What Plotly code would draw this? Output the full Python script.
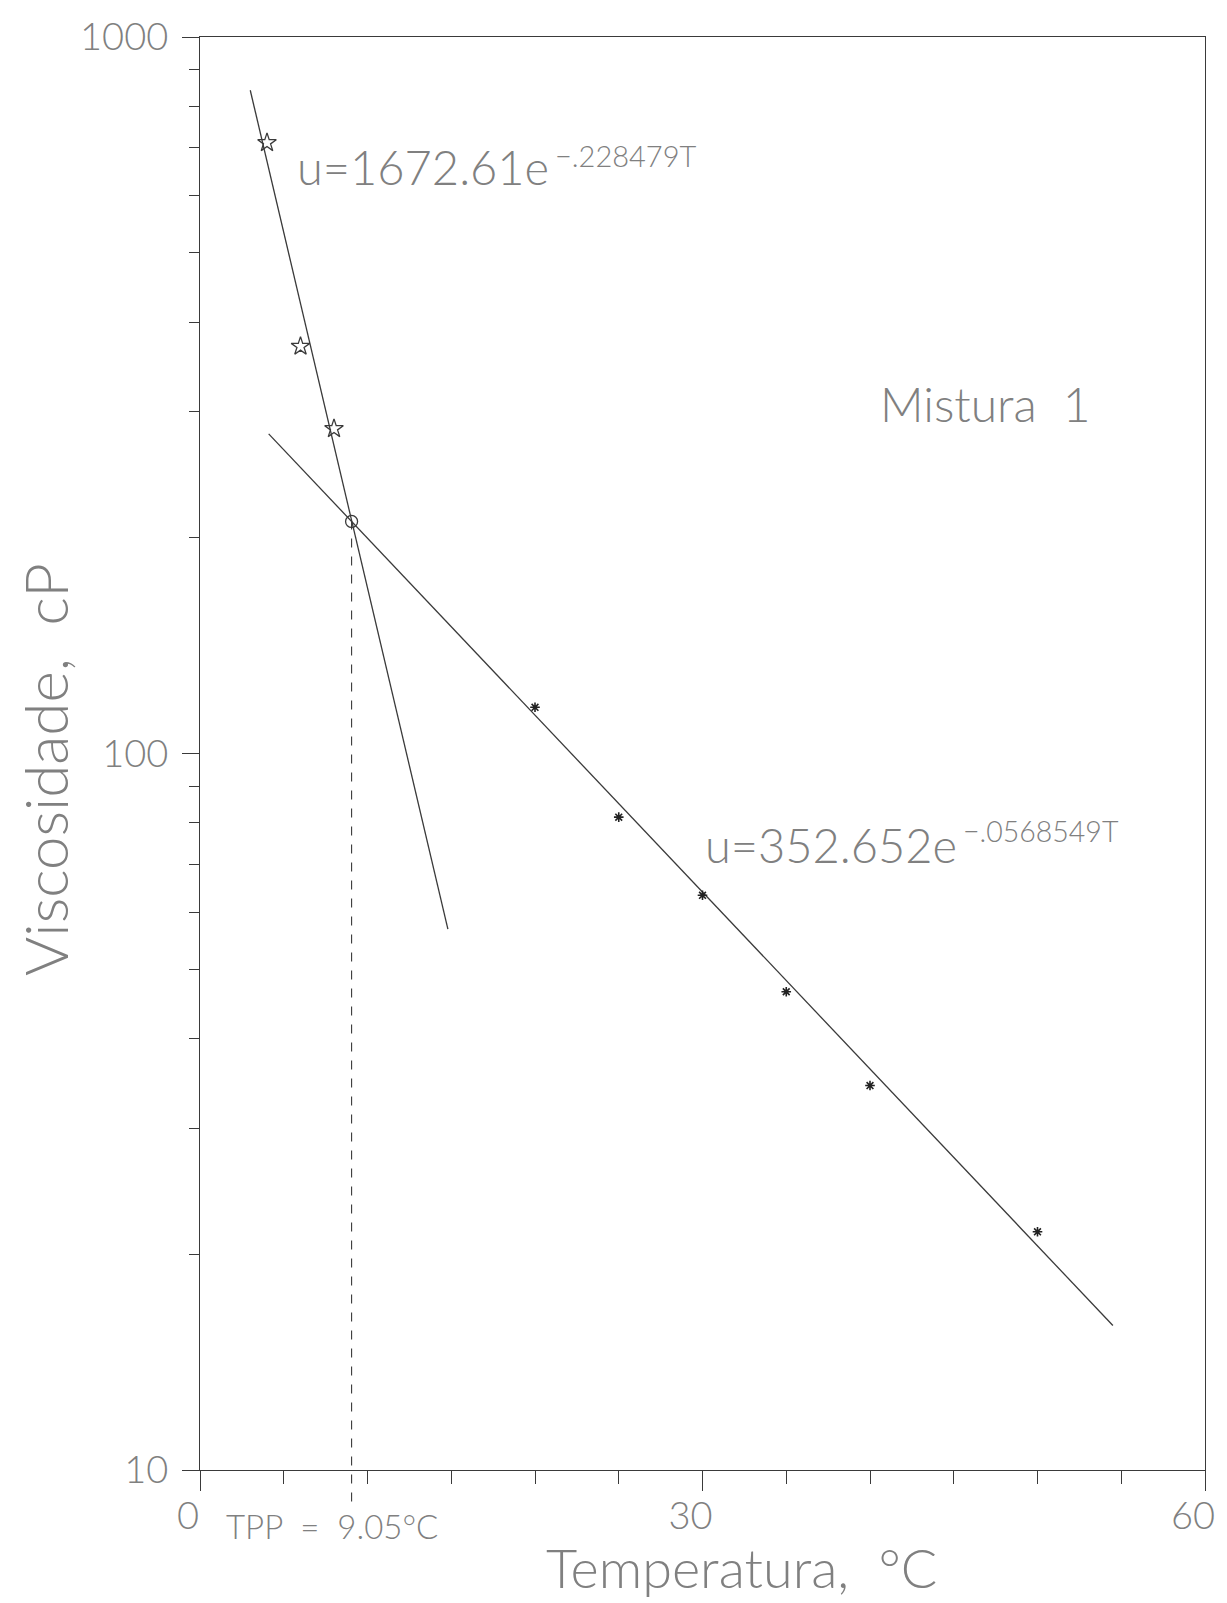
import math
import plotly.graph_objects as go

# Measured viscosity of "Mistura 1" (cP) vs temperature (°C)
T_low = [4, 6, 8]                 # below the pour point
u_low = [712, 370, 284]
T_high = [20, 25, 30, 35, 40, 50]  # above the pour point
u_high = [116, 81.5, 63.4, 46.5, 34.4, 21.5]

# Exponential fits u = A * exp(-b T)
A_low, b_low = 1672.61, 0.228479
A_high, b_high = 352.652, 0.0568549
T_span_low = [3.0, 14.8]
T_span_high = [4.1, 54.5]

TPP = 9.05  # pour point (intersection of both fits)

x_major = [0, 30, 60]
x_minor = [5, 10, 15, 20, 25, 35, 40, 45, 50, 55]
y_major = [10, 100, 1000]
y_minor = [m * d for d in (10, 100) for m in range(2, 10)]

LINE = "#3a3a3a"
TEXT = "#808080"
FONT = "Lato"
W = 300


def fit(A, b, T):
    return [A * math.exp(-b * t) for t in T]


u_tpp = A_high * math.exp(-b_high * TPP)

fig = go.Figure()

fig.add_trace(go.Scatter(
    x=T_span_low, y=fit(A_low, b_low, T_span_low), mode="lines",
    line=dict(color=LINE, width=1.3), showlegend=False, hoverinfo="skip"))
fig.add_trace(go.Scatter(
    x=T_span_high, y=fit(A_high, b_high, T_span_high), mode="lines",
    line=dict(color=LINE, width=1.3), showlegend=False, hoverinfo="skip"))

fig.add_trace(go.Scatter(
    x=T_low, y=u_low, mode="markers",
    marker=dict(symbol="star-open", size=14, color=LINE, line=dict(width=1.3)),
    showlegend=False))
fig.add_trace(go.Scatter(
    x=T_high, y=u_high, mode="markers",
    marker=dict(symbol="asterisk-open", size=8, color="#222", line=dict(width=1.6, color="#222")),
    showlegend=False))
fig.add_trace(go.Scatter(
    x=[TPP], y=[u_tpp], mode="markers",
    marker=dict(symbol="circle-open", size=12, color=LINE, line=dict(width=1.3)),
    showlegend=False))

# Dashed drop line from the intersection to just below the T axis
y_paper_tpp = (math.log10(u_tpp) - 1) / 2
fig.add_shape(type="line", xref="x", yref="paper",
              x0=TPP, x1=TPP, y0=-0.022, y1=y_paper_tpp,
              line=dict(color=LINE, width=1.1, dash="dash"))

fig.update_xaxes(
    range=[0, 60], tickmode="array", tickvals=x_major,
    ticktext=[str(v) for v in x_major],
    ticks="outside", ticklen=20, tickwidth=1.2, tickcolor=LINE,
    minor=dict(tickvals=x_minor, ticks="outside", ticklen=13, tickwidth=1.2, tickcolor=LINE),
    showline=True, linecolor=LINE, linewidth=1.3, mirror=True,
    showgrid=False, zeroline=False,
    ticklabelshift=-12, ticklabelstandoff=-8, ticklabeloverflow="allow",
    tickfont=dict(family=FONT, size=38, color=TEXT, weight=W))

fig.update_yaxes(
    type="log", range=[1, 3], tickmode="array", tickvals=y_major,
    ticktext=[str(v) for v in y_major],
    ticks="outside", ticklen=17, tickwidth=1.2, tickcolor=LINE,
    minor=dict(tickvals=y_minor, ticks="outside", ticklen=10, tickwidth=1.2, tickcolor=LINE),
    showline=True, linecolor=LINE, linewidth=1.3, mirror=True,
    showgrid=False, zeroline=False, ticklabelstandoff=6,
    tickfont=dict(family=FONT, size=38, color=TEXT, weight=W))

txt = dict(family=FONT, color=TEXT, weight=W)
annotations = [
    # fit equations: base text and exponent placed separately
    dict(x=0.0941, y=0.9095, xanchor="left", yanchor="middle",
         text="u=1672.61e", font=dict(size=47, **txt)),
    dict(x=0.3515, y=0.9175, xanchor="left", yanchor="middle",
         text="−.228479T", font=dict(size=29, **txt)),
    dict(x=0.5, y=0.4363, xanchor="left", yanchor="middle",
         text="u=352.652e", font=dict(size=47, **txt)),
    dict(x=0.7574, y=0.4457, xanchor="left", yanchor="middle",
         text="−.0568549T", font=dict(size=28.5, **txt)),
    dict(x=0.782, y=0.744, xanchor="center", yanchor="middle",
         text="Mistura  1", font=dict(size=48, **txt)),
    dict(x=0.1317, y=-0.039, xanchor="center", yanchor="middle",
         text="TPP  =  9.05°C", font=dict(size=33, **txt)),
    dict(x=0.5386, y=-0.0680, xanchor="center", yanchor="middle",
         text="Temperatura,  °C", font=dict(size=54, **txt)),
    dict(x=-0.1535, y=0.489, xanchor="center", yanchor="middle", textangle=-90,
         text="Viscosidade,  cP", font=dict(size=60, **txt)),
]
for a in annotations:
    a.update(xref="paper", yref="paper", showarrow=False)
fig.update_layout(annotations=annotations)

fig.update_layout(
    width=1227, height=1603,
    margin=dict(l=200, r=17, t=33, b=133),
    paper_bgcolor="white", plot_bgcolor="white",
    showlegend=False,
)

fig.write_html("out.html")
